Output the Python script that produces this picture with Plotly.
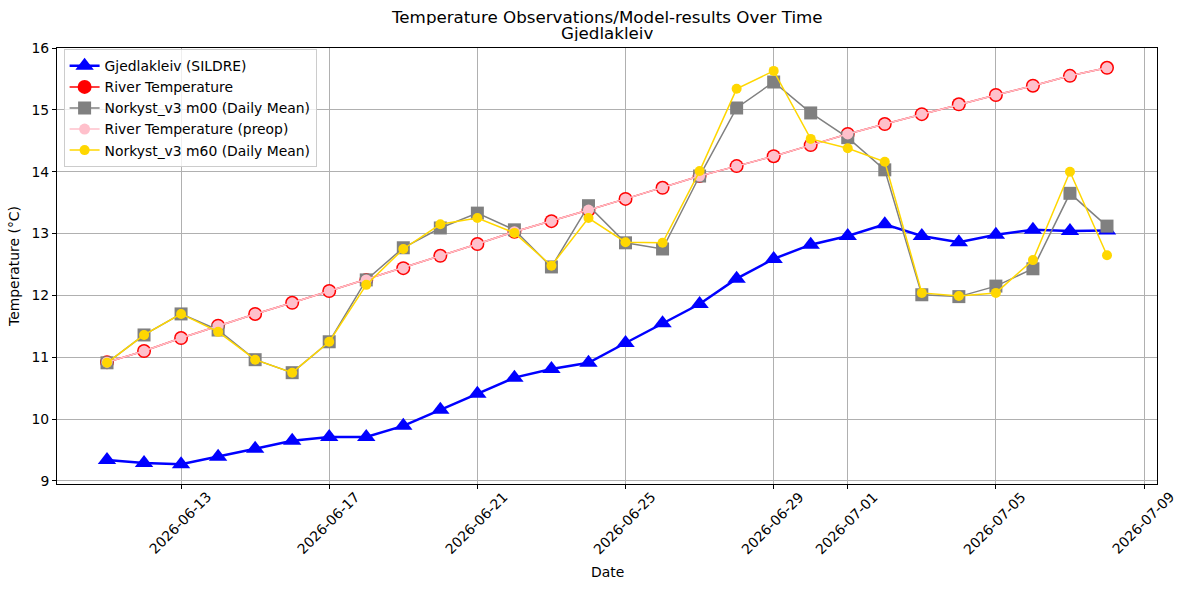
import plotly.graph_objects as go
import pandas as pd

dates = pd.date_range("2026-06-11", "2026-07-08", freq="D")

sildre = [9.34, 9.29, 9.27, 9.39, 9.52, 9.65, 9.71, 9.71, 9.89, 10.15, 10.41, 10.67, 10.81, 10.91,
          11.23, 11.55, 11.86, 12.27, 12.59, 12.82, 12.96, 13.15, 12.96, 12.86, 12.98, 13.06, 13.04, 13.05]
river = [10.92, 11.10, 11.31, 11.51, 11.70, 11.88, 12.07, 12.25, 12.44, 12.64, 12.83, 13.03, 13.20, 13.38,
         13.56, 13.74, 13.93, 14.09, 14.25, 14.43, 14.61, 14.77, 14.93, 15.09, 15.24, 15.39, 15.55, 15.68]
river_preop = list(river)
m00 = [10.91, 11.36, 11.70, 11.44, 10.96, 10.75, 11.25, 12.25, 12.77, 13.09, 13.33, 13.06, 12.46, 13.45,
       12.85, 12.75, 13.93, 15.03, 15.45, 14.95, 14.55, 14.03, 12.01, 11.98, 12.15, 12.43, 13.65, 13.12]
m60 = [10.91, 11.36, 11.70, 11.41, 10.96, 10.75, 11.25, 12.17, 12.75, 13.15, 13.25, 13.01, 12.48, 13.25,
       12.86, 12.85, 14.01, 15.34, 15.63, 14.53, 14.38, 14.16, 12.04, 11.99, 12.04, 12.57, 14.00, 12.65]

tick_dates = ["2026-06-13", "2026-06-17", "2026-06-21", "2026-06-25", "2026-06-29",
              "2026-07-01", "2026-07-05", "2026-07-09"]

title_lines = ["Temperature Observations/Model-results Over Time", "Gjedlakleiv"]

FS = 13.9

fig = go.Figure()
fig.add_trace(go.Scatter(x=dates, y=sildre, mode="lines+markers", name="Gjedlakleiv (SILDRE)",
                         line=dict(color="blue", width=2.5),
                         marker=dict(symbol="triangle-up", size=16, color="blue")))
fig.add_trace(go.Scatter(x=dates, y=river, mode="lines+markers", name="River Temperature",
                         line=dict(color="red", width=1.5),
                         marker=dict(symbol="circle", size=14, color="red")))
fig.add_trace(go.Scatter(x=dates, y=m00, mode="lines+markers", name="Norkyst_v3 m00 (Daily Mean)",
                         line=dict(color="gray", width=1.5),
                         marker=dict(symbol="square", size=13, color="gray")))
fig.add_trace(go.Scatter(x=dates, y=river_preop, mode="lines+markers", name="River Temperature (preop)",
                         line=dict(color="pink", width=1.5),
                         marker=dict(symbol="circle", size=11, color="pink")))
fig.add_trace(go.Scatter(x=dates, y=m60, mode="lines+markers", name="Norkyst_v3 m60 (Daily Mean)",
                         line=dict(color="gold", width=1.5),
                         marker=dict(symbol="circle", size=10, color="gold")))

annotations = []
for d in tick_dates:
    annotations.append(dict(x=d, y=0, xref="x", yref="paper", text=d,
                            showarrow=False, textangle=-45, xanchor="center", yanchor="middle",
                            xshift=-1, yshift=-39, font=dict(size=FS, color="black")))
annotations.append(dict(x=0.5, y=0, xref="paper", yref="paper", text="Date", showarrow=False,
                        xanchor="center", yanchor="middle", yshift=-88, font=dict(size=FS, color="black")))
for i, (line, shift) in enumerate(zip(title_lines, [31, 15])):
    annotations.append(dict(x=0.5, y=1, xref="paper", yref="paper", text=line, showarrow=False,
                            xanchor="center", yanchor="middle", yshift=shift, height=16,
                            font=dict(size=16.7, color="black")))

fig.update_layout(
    width=1187, height=590,
    margin=dict(l=57, r=30, t=48, b=106),
    paper_bgcolor="white", plot_bgcolor="white",
    font=dict(family="DejaVu Sans", size=FS, color="black"),
    showlegend=True,
    legend=dict(x=0.006, y=0.997, xanchor="left", yanchor="top", bgcolor="rgba(255,255,255,0.8)",
                bordercolor="#cccccc", borderwidth=1, font=dict(size=FS), tracegroupgap=0,
                itemsizing="trace"),
    annotations=annotations,
)
fig.update_xaxes(range=["2026-06-09 15:36", "2026-07-09 08:24"], type="date",
                 tickvals=tick_dates, showticklabels=False,
                 showgrid=True, gridcolor="#b0b0b0", gridwidth=0.8,
                 showline=True, linecolor="black", linewidth=1, mirror=True,
                 ticks="outside", ticklen=4, tickcolor="black", zeroline=False)
fig.update_yaxes(range=[8.95, 16.0], tickvals=[9, 10, 11, 12, 13, 14, 15, 16],
                 showgrid=True, gridcolor="#b0b0b0", gridwidth=0.8,
                 showline=True, linecolor="black", linewidth=1, mirror=True,
                 ticks="outside", ticklen=4, tickcolor="black",
                 title=dict(text="Temperature (°C)", standoff=8, font=dict(size=FS)), zeroline=False)

fig.write_html("out.html")
